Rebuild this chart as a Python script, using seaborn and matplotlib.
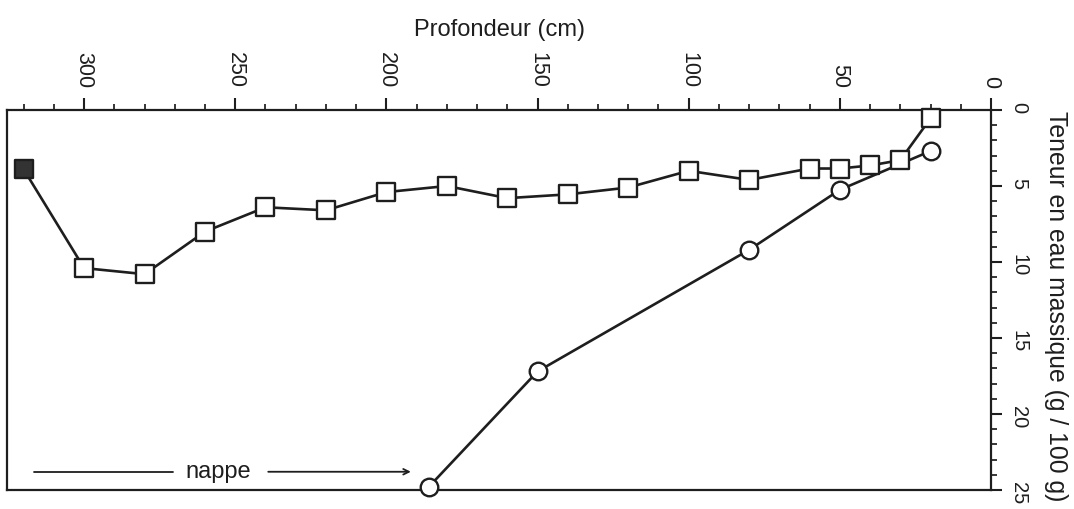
import matplotlib
matplotlib.use("Agg")
import matplotlib.pyplot as plt
from matplotlib.ticker import MultipleLocator
import numpy as np
import pandas as pd
import seaborn as sns

# ---- data ----
sq_depth = [320, 300, 280, 260, 240, 220, 200, 180, 160, 140, 120, 100, 80, 60, 50, 40, 30, 20]
sq_water = [3.9, 10.4, 10.8, 8.0, 6.4, 6.6, 5.4, 5.0, 5.8, 5.55, 5.1, 4.0, 4.6, 3.85, 3.85, 3.65, 3.3, 0.55]
sq_filled = [True] + [False] * 17

ci_depth = [20, 50, 80, 150, 186]
ci_water = [2.7, 5.25, 9.2, 17.2, 24.8]

x_ticks = [0, 50, 100, 150, 200, 250, 300]
y_ticks = [0, 5, 10, 15, 20, 25]

xlabel = "Profondeur (cm)"
ylabel = "Teneur en eau massique (g / 100 g)"
nappe_text = "nappe"
nappe_line = [316.5, 270.5]   # plain line segment (depth)
nappe_arrow = [240, 191]      # arrow (depth)
nappe_text_x = 255.5
nappe_y = 23.8

# ---- style ----
sns.set_style("white")
plt.rcParams["font.family"] = ["Liberation Sans", "DejaVu Sans"]
plt.rcParams["axes.edgecolor"] = "black"
plt.rcParams["axes.linewidth"] = 1.5

fig = plt.figure(figsize=(10.74, 5.09), dpi=100)
ax = fig.add_axes([7 / 1074, 1 - 490 / 509, (991 - 7) / 1074, (490 - 110) / 509])

sq = pd.DataFrame({"depth": sq_depth, "water": sq_water, "filled": sq_filled})
ci = pd.DataFrame({"depth": ci_depth, "water": ci_water})

ink = "#1e1e1e"
sns.lineplot(data=sq, x="depth", y="water", sort=False, color=ink, lw=1.9, ax=ax, zorder=2)
sns.lineplot(data=ci, x="depth", y="water", sort=False, color=ink, lw=1.9, ax=ax, zorder=2)

sns.scatterplot(data=sq[~sq["filled"]], x="depth", y="water", marker="s", s=150,
                facecolor="white", edgecolor=ink, linewidth=1.7, ax=ax, zorder=3, clip_on=False)
sns.scatterplot(data=sq[sq["filled"]], x="depth", y="water", marker="s", s=150,
                facecolor="#333333", edgecolor=ink, linewidth=1.7, ax=ax, zorder=3, clip_on=False)
sns.scatterplot(data=ci, x="depth", y="water", marker="o", s=160,
                facecolor="white", edgecolor=ink, linewidth=1.7, ax=ax, zorder=3, clip_on=False)

# nappe annotation
ax.plot(nappe_line, [nappe_y, nappe_y], color=ink, lw=1.3)
ax.annotate("", xy=(nappe_arrow[1], nappe_y), xytext=(nappe_arrow[0], nappe_y),
            arrowprops=dict(arrowstyle="->", color=ink, lw=1.3))
ax.text(nappe_text_x, nappe_y, nappe_text, ha="center", va="center", fontsize=17, color=ink)

# axes
ax.set_xlim(325.5, 0)
ax.set_ylim(25, 0)
ax.xaxis.tick_top()
ax.xaxis.set_label_position("top")
ax.yaxis.tick_right()
ax.yaxis.set_label_position("right")
ax.set_xticks(x_ticks)
ax.set_yticks(y_ticks)
ax.xaxis.set_minor_locator(MultipleLocator(10))
ax.yaxis.set_minor_locator(MultipleLocator(1))
ax.tick_params(axis="x", which="major", direction="out", length=9, width=1.5, labelsize=15.5,
               labelrotation=-90, pad=7, colors=ink)
ax.tick_params(axis="x", which="minor", direction="out", length=4, width=1.3)
ax.tick_params(axis="y", which="major", direction="out", length=8, width=1.5, labelsize=14.5,
               labelrotation=-90, pad=5, colors=ink)
ax.tick_params(axis="y", which="minor", direction="out", length=4, width=1.3)
ax.tick_params(left=False, bottom=False, top=True, right=True, which="both")

ax.set_xlabel(xlabel, fontsize=17, labelpad=11, color=ink)
ax.set_ylabel(ylabel, fontsize=17.8, rotation=-90, va="center", ha="center", color=ink)
ax.yaxis.set_label_coords(1.066, 0.485)

for s in ax.spines.values():
    s.set_visible(True)
    s.set_color(ink)
    s.set_linewidth(1.6)

fig.savefig("out.png", dpi=100, facecolor="white")
